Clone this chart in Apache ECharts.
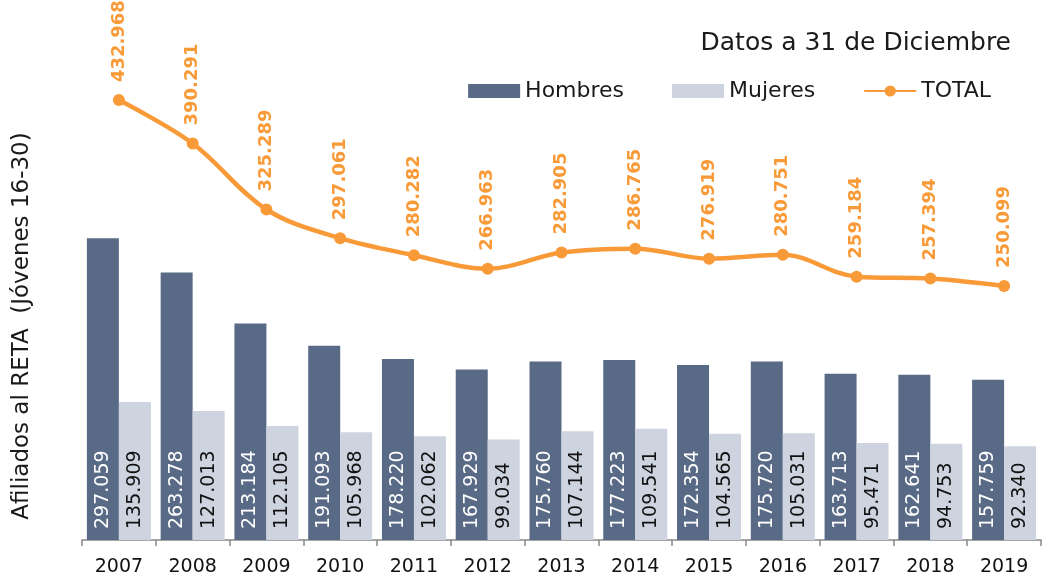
<!DOCTYPE html>
<html>
<head>
<meta charset="utf-8">
<script src="https://cdn.jsdelivr.net/npm/echarts@6/dist/echarts.min.js"></script>
<style>
  html, body { margin: 0; padding: 0; background: #fff; }
  #chart { width: 1048px; height: 587px; }
</style>
</head>
<body>
<div id="chart"></div>
<script>
const years = ['2007', '2008', '2009', '2010', '2011', '2012', '2013', '2014', '2015', '2016', '2017', '2018', '2019'];
const hombres = [297059, 263278, 213184, 191093, 178220, 167929, 175760, 177223, 172354, 175720, 163713, 162641, 157759];
const mujeres = [135909, 127013, 112105, 105968, 102062, 99034, 107144, 109541, 104565, 105031, 95471, 94753, 92340];
const total = [432968, 390291, 325289, 297061, 280282, 266963, 282905, 286765, 276919, 280751, 259184, 257394, 250099];

const font = "'Century Gothic', 'DejaVu Sans', sans-serif";
const fmt = v => v.toLocaleString('de-DE');

const chart = echarts.init(document.getElementById('chart'));

const option = {
  animation: false,
  textStyle: { fontFamily: font },
  title: {
    text: 'Datos a 31 de Diciembre',
    right: 32,
    top: 26,
    textStyle: { fontFamily: font, fontWeight: 'normal', fontSize: 25, color: '#1a1a1a' }
  },
  legend: {
    right: 52,
    top: 75,
    itemGap: 48,
    itemWidth: 52,
    itemHeight: 14,
    textStyle: { fontFamily: font, fontSize: 22, color: '#1a1a1a' },
    data: [
      { name: 'Hombres', icon: 'rect' },
      { name: 'Mujeres', icon: 'rect' },
      { name: 'TOTAL' }
    ]
  },
  graphic: [{
    type: 'text',
    x: 22,
    y: 326,
    rotation: Math.PI / 2,
    style: {
      text: 'Afiliados al RETA  (Jóvenes 16-30)',
      fontFamily: font,
      fontSize: 23,
      fill: '#1a1a1a',
      align: 'center',
      verticalAlign: 'middle'
    }
  }],
  grid: { left: 82, right: 7, top: 32, bottom: 47 },
  xAxis: {
    type: 'category',
    data: years,
    axisLine: { lineStyle: { color: '#888', width: 1.5 } },
    axisTick: { show: true, length: 6, lineStyle: { color: '#888', width: 1.5 } },
    axisLabel: { fontFamily: font, fontSize: 19, color: '#111', margin: 18 }
  },
  yAxis: {
    type: 'value',
    min: 0,
    max: 500000,
    axisLabel: { show: false },
    axisLine: { show: false },
    axisTick: { show: false },
    splitLine: { show: false }
  },
  series: [
    {
      name: 'Hombres',
      type: 'bar',
      data: hombres,
      barWidth: 32,
      barGap: '0%',
      itemStyle: { color: '#596A86' },
      label: {
        show: true,
        position: 'insideBottom',
        rotate: 90,
        align: 'left',
        verticalAlign: 'middle',
        distance: 11,
        formatter: p => fmt(p.value),
        fontFamily: font,
        fontSize: 19,
        color: '#fff'
      }
    },
    {
      name: 'Mujeres',
      type: 'bar',
      data: mujeres,
      barWidth: 32,
      itemStyle: { color: '#CDD3DF' },
      label: {
        show: true,
        position: 'insideBottom',
        rotate: 90,
        align: 'left',
        verticalAlign: 'middle',
        distance: 11,
        formatter: p => fmt(p.value),
        fontFamily: font,
        fontSize: 19,
        color: '#111'
      }
    },
    {
      name: 'TOTAL',
      type: 'line',
      data: total,
      smooth: 0.35,
      symbol: 'circle',
      symbolSize: 12,
      lineStyle: { color: '#F99A38', width: 4.5 },
      itemStyle: { color: '#F99A38' },
      label: {
        show: true,
        position: 'top',
        rotate: 90,
        align: 'left',
        verticalAlign: 'middle',
        distance: 12,
        formatter: p => fmt(p.value),
        fontFamily: font,
        fontSize: 18,
        fontWeight: 'bold',
        color: '#F99A38'
      }
    }
  ]
};

chart.setOption(option);
</script>
</body>
</html>
